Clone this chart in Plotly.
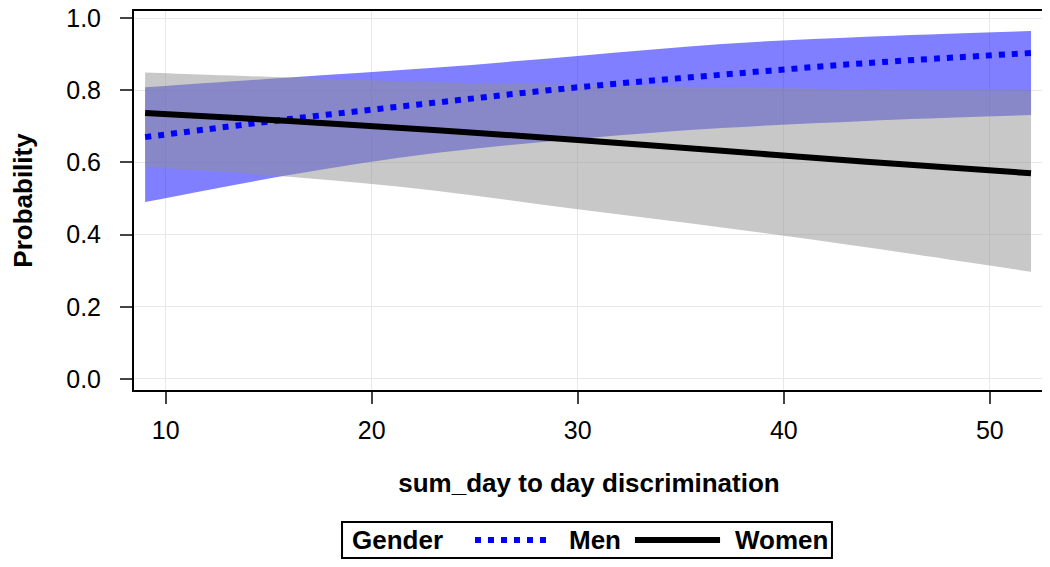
import plotly.graph_objects as go

# predicted probability vs sum_day to day discrimination, by gender
x = [9, 16, 23, 30, 37, 44, 52]

men_mean = [0.670, 0.720, 0.765, 0.808, 0.843, 0.875, 0.903]
men_upper = [0.808, 0.835, 0.862, 0.895, 0.928, 0.948, 0.964]
men_lower = [0.490, 0.565, 0.625, 0.665, 0.695, 0.715, 0.731]

women_mean = [0.737, 0.715, 0.690, 0.662, 0.632, 0.602, 0.570]
women_upper = [0.849, 0.835, 0.822, 0.815, 0.808, 0.803, 0.800]
women_lower = [0.587, 0.560, 0.522, 0.470, 0.420, 0.365, 0.297]

x_ticks = [10, 20, 30, 40, 50]
y_ticks = [0.0, 0.2, 0.4, 0.6, 0.8, 1.0]

FONT = 'Liberation Sans, Arial, sans-serif'
MEN_LINE = dict(color='#0000ff', width=6, dash='6px,7px')
WOMEN_LINE = dict(color='black', width=6)


def band(fig, lower, upper, color):
    fig.add_trace(go.Scatter(x=x, y=lower, mode='lines', line=dict(width=0, shape='spline'),
                             showlegend=False, hoverinfo='skip'))
    fig.add_trace(go.Scatter(x=x, y=upper, mode='lines', line=dict(width=0, shape='spline'), fill='tonexty',
                             fillcolor=color, showlegend=False, hoverinfo='skip'))


fig = go.Figure()
band(fig, men_lower, men_upper, 'rgba(0,0,255,0.5)')
band(fig, women_lower, women_upper, 'rgba(145,145,145,0.5)')
fig.add_trace(go.Scatter(x=x, y=men_mean, mode='lines', name='Men', showlegend=False,
                         line=dict(shape='spline', **MEN_LINE)))
fig.add_trace(go.Scatter(x=x, y=women_mean, mode='lines', name='Women', showlegend=False,
                         line=dict(shape='spline', **WOMEN_LINE)))

# legend box drawn by hand, SAS style: "Gender  ..... Men ____ Women"
ly = -0.3958
fig.add_shape(type='rect', xref='paper', yref='paper', x0=0.2286, x1=0.767, y0=-0.4433, y1=-0.3483,
              line=dict(color='black', width=2))
fig.add_shape(type='line', xref='paper', yref='paper', x0=0.3747, x1=0.4593, y0=ly, y1=ly, line=MEN_LINE)
fig.add_shape(type='line', xref='paper', yref='paper', x0=0.5505, x1=0.644, y0=ly, y1=ly, line=WOMEN_LINE)
for label, lx in [('Gender', 0.2374), ('Men', 0.4758), ('Women', 0.6582)]:
    fig.add_annotation(text=f'<b>{label}</b>', xref='paper', yref='paper', x=lx, y=ly, xanchor='left',
                       yanchor='middle', showarrow=False, font=dict(family=FONT, size=26, color='black'))

# page body has an 8px margin, so the figure is a bit smaller than the window
fig.update_layout(
    width=1042, height=551,
    margin=dict(l=126, r=6, t=3, b=169),
    plot_bgcolor='white', paper_bgcolor='white',
    font=dict(family=FONT, size=25, color='black'),
    showlegend=False,
)
fig.update_xaxes(range=[8.46, 52.63], tickvals=x_ticks, ticks='outside', ticklen=12, tickwidth=2, tickcolor='#444',
                 ticklabelstandoff=5, automargin=False, ticklabeloverflow='allow',
                 showline=True, linecolor='black', linewidth=2, mirror=True,
                 showgrid=True, gridcolor='#e8e8e8', gridwidth=1, zeroline=False,
                 title=dict(text='<b>sum_day to day discrimination</b>', font=dict(size=26), standoff=31))
fig.update_yaxes(range=[-0.0305, 1.0194], tickvals=y_ticks, tickformat='.1f', ticks='outside', ticklen=12,
                 tickwidth=2, tickcolor='#444', ticklabelstandoff=14, automargin=False, ticklabeloverflow='allow',
                 showline=True, linecolor='black', linewidth=2, mirror=True,
                 showgrid=True, gridcolor='#e8e8e8', gridwidth=1, zeroline=False,
                 title=dict(text='<b>Probability</b>', font=dict(size=26), standoff=36))

fig.write_html("out.html")
